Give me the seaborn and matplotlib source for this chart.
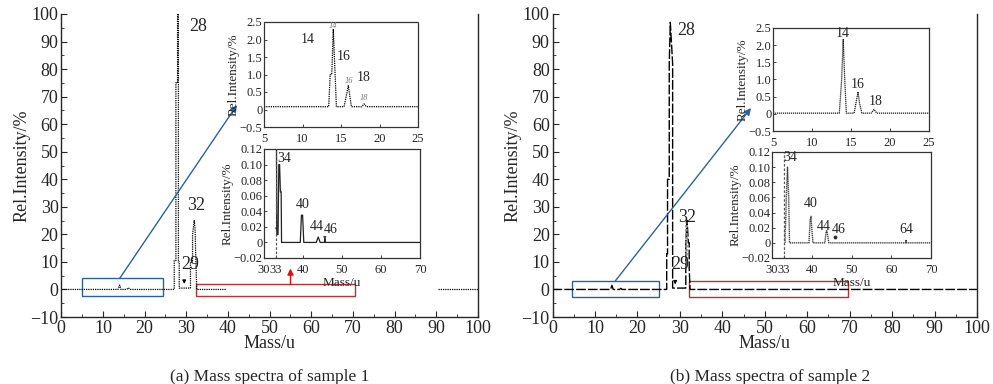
import matplotlib
matplotlib.use("Agg")
import matplotlib.pyplot as plt
from matplotlib.patches import Rectangle
from matplotlib.ticker import MultipleLocator
import seaborn as sns
import pandas as pd

# ---------------- data ----------------
# (a) sample 1, main spectrum (two drawn segments)
a_mass = [0, 13.6, 14.0, 14.3, 15.7, 16.1, 16.5, 27.1, 27.1, 27.5, 27.5, 27.9, 27.9, 28.1,
          28.1, 28.3, 28.3, 31.0, 31.0, 31.5, 31.5, 31.9, 32.1, 32.3, 32.5, 39.5]
a_int = [0, 0, 1.6, 0, 0, 0.6, 0, 0, 10.5, 10.5, 75, 75, 100, 100,
         10, 10, 0.5, 0.5, 10, 10, 20, 25, 22, 10, 0, 0]
a_tail_mass = [90.5, 100]
a_tail_int = [0, 0]

# (a) inset 5-25
a_lo_mass = [5, 13.4, 13.6, 13.8, 14.0, 14.4, 15.4, 15.95, 16.35, 17.7, 18.0, 18.3, 25]
a_lo_int = [0.08, 0.08, 1.0, 1.0, 2.3, 0.08, 0.08, 0.68, 0.08, 0.08, 0.16, 0.08, 0.08]

# (a) inset 30-70
a_hi_mass = [33.2, 33.3, 33.6, 33.8, 34.0, 34.2, 34.4, 34.5, 39.3, 39.6, 39.9, 40.2,
             43.4, 43.9, 44.4, 45.5, 45.6, 45.7, 70]
a_hi_int = [0.12, 0.01, 0.01, 0.10, 0.10, 0.065, 0.065, 0, 0, 0.035, 0.035, 0,
            0, 0.007, 0, 0, 0.005, 0, 0]

# (b) sample 2, main spectrum
b_mass = [0, 13.7, 14.0, 14.3, 15.8, 16.1, 16.4, 26.9, 26.9, 27.1, 27.1, 27.5, 27.5, 27.75,
          28.3, 28.3, 31.4, 31.4, 31.7, 32.0, 32.2, 32.2, 32.4, 100]
b_int = [0, 0, 1.5, 0, 0, 0.4, 0, 0, 13, 13, 40, 40, 82, 97,
         82, 0.5, 0.5, 17, 25, 17, 17, 8, 0, 0]

# (b) inset 5-25
b_lo_mass = [5, 13.5, 13.8, 14.0, 14.2, 14.4, 15.4, 15.9, 16.1, 16.4, 17.6, 17.95, 18.3, 25]
b_lo_int = [0.02, 0.02, 1.0, 2.17, 1.0, 0.02, 0.02, 0.64, 0.3, 0.02, 0.02, 0.13, 0.02, 0.02]

# (b) inset 30-70
b_hi_mass = [33.3, 33.3, 33.4, 33.6, 33.9, 34.2, 34.4, 39.3, 39.6, 39.8, 40.0, 40.3,
             43.3, 43.6, 43.8, 44.0, 44.3, 63.6, 63.7, 63.8, 70]
b_hi_int = [0.0, 0.02, 0.02, 0.06, 0.10, 0.06, 0, 0, 0.03, 0.035, 0.02, 0,
            0, 0.015, 0.016, 0.01, 0, 0, 0.004, 0, 0]

main_xticks = [0, 10, 20, 30, 40, 50, 60, 70, 80, 90, 100]
main_yticks = [-10, 0, 10, 20, 30, 40, 50, 60, 70, 80, 90, 100]
lo_yticks = [-0.5, 0, 0.5, 1.0, 1.5, 2.0, 2.5]
lo_ylabels = ["\u22120.5", "0", "0.5", "1.0", "1.5", "2.0", "2.5"]
lo_xticks = [5, 10, 15, 20, 25]
hi_yticks = [-0.02, 0, 0.02, 0.04, 0.06, 0.08, 0.10, 0.12]
hi_ylabels = ["\u22120.02", "0", "0.02", "0.04", "0.06", "0.08", "0.10", "0.12"]
hi_xticks = [30, 33, 40, 50, 60, 70]

captions = ["(a) Mass spectra of sample 1", "(b) Mass spectra of sample 2"]

# ---------------- style ----------------
sns.set_theme(style="ticks")
plt.rcParams["font.family"] = ["Liberation Serif", "DejaVu Serif"]
plt.rcParams["xtick.direction"] = "in"
plt.rcParams["ytick.direction"] = "in"
plt.rcParams["axes.linewidth"] = 1.0

BLUE = "#2a62a0"
DRED = "#b83232"
W, H = 993, 384

fig = plt.figure(figsize=(W / 100, H / 100), dpi=100)


def px_axes(x0, x1, y0, y1):
    return fig.add_axes([x0 / W, 1 - y1 / H, (x1 - x0) / W, (y1 - y0) / H])


def spec(ax, m, v, **kw):
    df = pd.DataFrame({"m": m, "v": v})
    sns.lineplot(data=df, x="m", y="v", ax=ax, sort=False, estimator=None,
                 legend=False, **kw)


def style_main(ax):
    ax.set_xlim(0, 100)
    ax.set_ylim(-10, 100)
    ax.set_xticks(main_xticks)
    ax.set_yticks(main_yticks)
    ax.xaxis.set_minor_locator(MultipleLocator(5))
    ax.yaxis.set_minor_locator(MultipleLocator(5))
    ax.tick_params(which="major", length=4, width=0.8, labelsize=13, pad=2)
    ax.tick_params(which="minor", length=2, width=0.6)
    ax.spines["top"].set_visible(False)
    ax.set_xlabel("Mass/u", fontsize=13, labelpad=-1)
    ax.set_ylabel("Rel.Intensity/%", fontsize=13, labelpad=0)


def style_inset(ax, lo, allDotted=False):
    if lo:
        ax.set_xlim(5, 25)
        ax.set_ylim(-0.5, 2.5)
        ax.set_xticks(lo_xticks)
        ax.set_yticks(lo_yticks, lo_ylabels)
    else:
        ax.set_xlim(30, 70)
        ax.set_ylim(-0.02, 0.12)
        ax.set_xticks(hi_xticks)
        ax.set_yticks(hi_yticks, hi_ylabels)
        ax.set_xlabel("Mass/u", fontsize=9.5, labelpad=0.5)
        ax.axvline(33, color="#555555", ls=(0, (2, 1.5)), lw=0.9)
    ax.set_ylabel("Rel.Intensity/%", fontsize=9.5, labelpad=0)
    ax.tick_params(which="major", length=2.5, width=0.6, labelsize=9, pad=1)
    ax.tick_params(axis="x", pad=4.5)
    for name, sp in ax.spines.items():
        sp.set_linewidth(0.9)
        sp.set_color("#333333")
        if allDotted or name in ("right", "bottom"):
            sp.set_linestyle((0, (1, 1)))


# ---------------- (a) ----------------
axA = px_axes(61.3, 478, 14, 317)
spec(axA, a_mass, a_int, color="black", lw=0.9, ls=(0, (1, 0.8)))
spec(axA, a_tail_mass, a_tail_int, color="black", lw=0.9, ls=(0, (1, 0.8)))
style_main(axA)
axA.text(30.6, 94, "28", fontsize=13)
axA.text(30.2, 29, "32", fontsize=13)
axA.text(28.8, 7.5, "29", fontsize=13)
axA.annotate("", xy=(29.5, 1.0), xytext=(29.5, 4.2),
             arrowprops=dict(arrowstyle="-|>", color="black", lw=0.8, mutation_scale=5))
axA.add_patch(Rectangle((5, -2.4), 19.5, 6.4, fill=False, ec=BLUE, lw=1.0))
axA.add_patch(Rectangle((32.4, -2.4), 38.2, 4.3, fill=False, ec=DRED, lw=1.0))
axA.annotate("", xy=(237 / W, 1 - 105 / H), xycoords="figure fraction",
             xytext=(14, 4), textcoords="data",
             arrowprops=dict(arrowstyle="-|>", color=BLUE, lw=1.0, mutation_scale=10,
                             shrinkA=0, shrinkB=0))
axA.annotate("", xy=(55, 7.6), xytext=(55, 1.9),
             arrowprops=dict(arrowstyle="-|>", color="#e01010", lw=1.0, mutation_scale=9,
                             shrinkA=0, shrinkB=0))

axA1 = px_axes(264, 418, 22, 127)
spec(axA1, a_lo_mass, a_lo_int, color="black", lw=0.9, ls=(0, (1, 0.8)))
style_inset(axA1, True, allDotted=True)
axA1.text(10.7, 2.0, "14", fontsize=10, ha="center", va="center")
axA1.text(15.3, 1.5, "16", fontsize=10, ha="center", va="center")
axA1.text(17.9, 0.92, "18", fontsize=10, ha="center", va="center")
for mx, my, lab in [(13.9, 2.38, "14"), (16.0, 0.82, "16"), (18.0, 0.33, "18")]:
    axA1.text(mx, my, lab, fontsize=6, color="#777777", ha="center", va="center", style="italic")

axA2 = px_axes(264, 420, 149, 258)
spec(axA2, a_hi_mass, a_hi_int, color="#222222", lw=0.9)
style_inset(axA2, False)
axA2.annotate("", xy=(33.25, 0.011), xytext=(33.25, 0.04),
              arrowprops=dict(arrowstyle="-|>", color="#333333", lw=0.6, mutation_scale=4))
axA2.annotate("", xy=(45.6, 0.0), xytext=(45.6, 0.009),
              arrowprops=dict(arrowstyle="-|>", color="#333333", lw=0.6, mutation_scale=4))
axA2.text(35.3, 0.108, "34", fontsize=10, ha="center", va="center")
axA2.text(39.9, 0.049, "40", fontsize=10, ha="center", va="center")
axA2.text(43.4, 0.021, "44", fontsize=10, ha="center", va="center")
axA2.text(47.2, 0.016, "46", fontsize=10, ha="center", va="center")

# ---------------- (b) ----------------
axB = px_axes(552.5, 977, 14, 317)
spec(axB, b_mass, b_int, color="black", lw=1.0, ls=(0, (7, 1.5)))
spec(axB, [31.55, 31.55], [8, 24.5], color="#888888", lw=1.8, ls=(0, (1, 0.6)))
style_main(axB)
axB.text(29.4, 92.5, "28", fontsize=13)
axB.text(29.6, 24.5, "32", fontsize=13)
axB.text(28.0, 7.5, "29", fontsize=13)
axB.annotate("", xy=(28.9, 0.8), xytext=(28.9, 3.8),
             arrowprops=dict(arrowstyle="-|>", color="black", lw=0.8, mutation_scale=5))
axB.add_patch(Rectangle((4.5, -2.8), 20.5, 5.9, fill=False, ec=BLUE, lw=1.0))
axB.add_patch(Rectangle((32.1, -2.8), 37.4, 5.9, fill=False, ec=DRED, lw=1.0))
axB.annotate("", xy=(751 / W, 1 - 108 / H), xycoords="figure fraction",
             xytext=(14.8, 3.1), textcoords="data",
             arrowprops=dict(arrowstyle="-|>", color=BLUE, lw=1.0, mutation_scale=10,
                             shrinkA=0, shrinkB=0))

axB1 = px_axes(773, 929, 28, 131)
spec(axB1, b_lo_mass, b_lo_int, color="#222222", lw=0.9, ls=(0, (1, 0.6)))
style_inset(axB1, True)
axB1.text(13.9, 2.35, "14", fontsize=10, ha="center", va="center")
axB1.text(15.8, 0.84, "16", fontsize=10, ha="center", va="center")
axB1.text(18.1, 0.35, "18", fontsize=10, ha="center", va="center")

axB2 = px_axes(772, 931, 152, 258)
spec(axB2, b_hi_mass, b_hi_int, color="#444444", lw=1.0, ls=(0, (1, 0.5)))
style_inset(axB2, False)
axB2.plot([45.8], [0.0072], marker="o", ms=1.8, color="#333333")
axB2.text(34.7, 0.113, "34", fontsize=10, ha="center", va="center")
axB2.text(39.8, 0.052, "40", fontsize=10, ha="center", va="center")
axB2.text(43.1, 0.022, "44", fontsize=10, ha="center", va="center")
axB2.text(46.8, 0.018, "46", fontsize=10, ha="center", va="center")
axB2.text(63.7, 0.018, "64", fontsize=10, ha="center", va="center")

# captions
fig.text(270 / W, 1 - 377 / H, captions[0], fontsize=12.5, ha="center", va="center")
fig.text(770 / W, 1 - 377 / H, captions[1], fontsize=12.5, ha="center", va="center")

fig.savefig("out.png", dpi=100)
